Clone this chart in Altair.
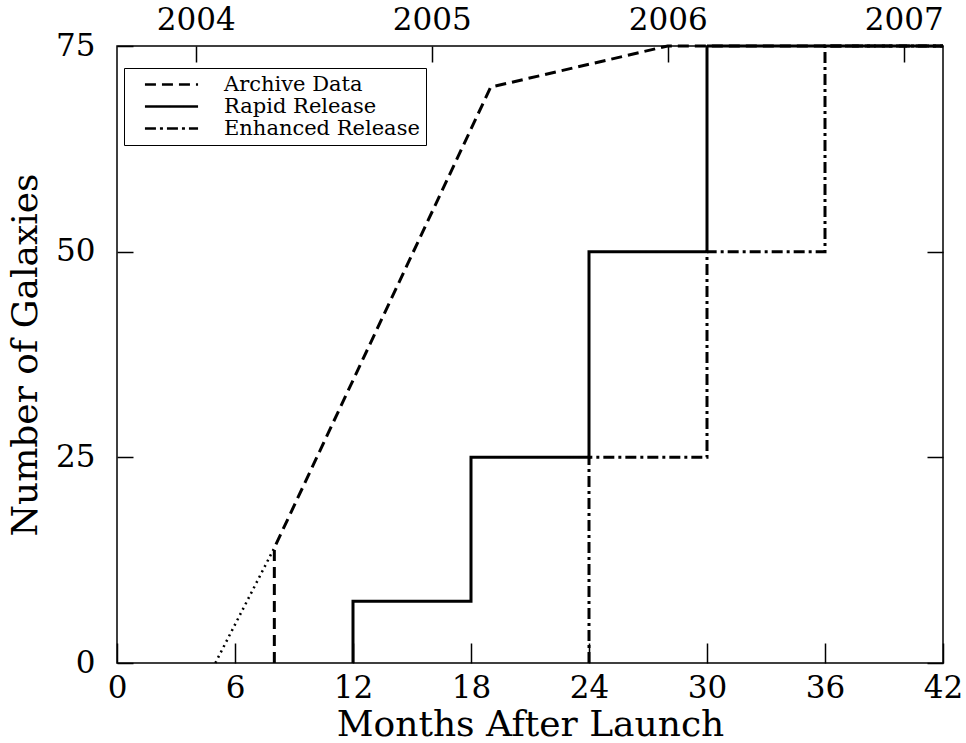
import altair as alt
import pandas as pd

# ---- data ----
series_names = ["Archive Data", "Rapid Release", "Enhanced Release"]

archive_x = [8, 8, 19, 28, 42]
archive_y = [0, 14, 70, 75, 75]

rapid_x = [12, 12, 18, 18, 24, 24, 30, 30, 42]
rapid_y = [0, 7.5, 7.5, 25, 25, 50, 50, 75, 75]

enhanced_x = [24, 24, 30, 30, 36, 36, 42]
enhanced_y = [0, 25, 25, 50, 50, 75, 75]

dotted_x = [5, 8]
dotted_y = [0, 14]

month_ticks = [0, 6, 12, 18, 24, 30, 36, 42]
count_ticks = [0, 25, 50, 75]
year_ticks = [4, 16, 28, 40]
year_labels = ["2004", "2005", "2006", "2007"]

rows = []
for name, xs, ys in [
    (series_names[0], archive_x, archive_y),
    (series_names[1], rapid_x, rapid_y),
    (series_names[2], enhanced_x, enhanced_y),
]:
    for i, (xv, yv) in enumerate(zip(xs, ys)):
        rows.append({"series": name, "month": xv, "galaxies": yv, "idx": i})
df = pd.DataFrame(rows)
dot_df = pd.DataFrame({"month": dotted_x, "galaxies": dotted_y, "idx": list(range(len(dotted_x)))})

FONT = "DejaVu Serif"
xscale = alt.Scale(domain=[0, 42], nice=False, zero=False)
yscale = alt.Scale(domain=[0, 75], nice=False, zero=False)

common_axis = dict(
    domain=False, grid=False, tickColor="black", tickWidth=1.5,
    labelColor="black", labelFont=FONT, labelFontSize=31, labelOverlap=False,
    labelFlush=False, titleColor="black", titleFont=FONT, titleFontSize=36,
    titleFontWeight="normal",
)

year_expr = " : ".join(
    f"datum.value == {v} ? '{l}'" for v, l in zip(year_ticks, year_labels)
) + " : ''"

main = alt.Chart(df).mark_line(color="black", strokeWidth=3, strokeCap="butt").encode(
    x=alt.X("month:Q", scale=xscale, axis=alt.Axis(
        orient="bottom", values=month_ticks, title="Months After Launch",
        tickSize=20, offset=-20, labelPadding=10, titlePadding=4, **common_axis)),
    y=alt.Y("galaxies:Q", scale=yscale, axis=alt.Axis(
        orient="left", values=count_ticks, title="Number of Galaxies",
        tickSize=16, offset=-16, labelPadding=22, titlePadding=11, **common_axis)),
    strokeDash=alt.StrokeDash("series:N", scale=alt.Scale(
        domain=series_names, range=[[11, 6], [1, 0], [11, 4, 3, 4]]),
        legend=alt.Legend(
            title=None, orient="none", legendX=7, legendY=22,
            strokeColor="black", fillColor="white", padding=6,
            symbolType="M-2.95,0H2.95", symbolSize=324, symbolStrokeWidth=2.5,
            symbolStrokeColor="black", symbolFillColor="transparent",
            symbolOffset=31, labelOffset=42, labelLimit=0,
            labelFont=FONT, labelFontSize=21, labelColor="black", rowPadding=0,
        )),
    detail="series:N",
    order="idx:Q",
)

dotted = alt.Chart(dot_df).mark_line(color="black", strokeWidth=2.5, strokeDash=[2, 4]).encode(
    x=alt.X("month:Q", scale=xscale, axis=alt.Axis(
        orient="top", values=year_ticks, labelExpr=year_expr, title=None,
        tickSize=16, offset=-16, labelPadding=10, **common_axis)),
    y=alt.Y("galaxies:Q", scale=yscale, axis=alt.Axis(
        orient="right", values=count_ticks, labels=False, title=None,
        tickSize=16, offset=-16, **common_axis)),
    order="idx:Q",
)

chart = alt.layer(main, dotted).resolve_axis(x="independent", y="independent").properties(
    width=826, height=617,
    autosize=alt.AutoSizeParams(type="none"),
    padding={"left": 117, "top": 46, "right": 23, "bottom": 80},
    background="white",
).configure_view(stroke="black", strokeWidth=1.5).configure_legend(
    labelFont=FONT, labelFontSize=21, labelColor="black"
)

chart.save("out.html", embed_options={"renderer": "svg", "actions": False})
